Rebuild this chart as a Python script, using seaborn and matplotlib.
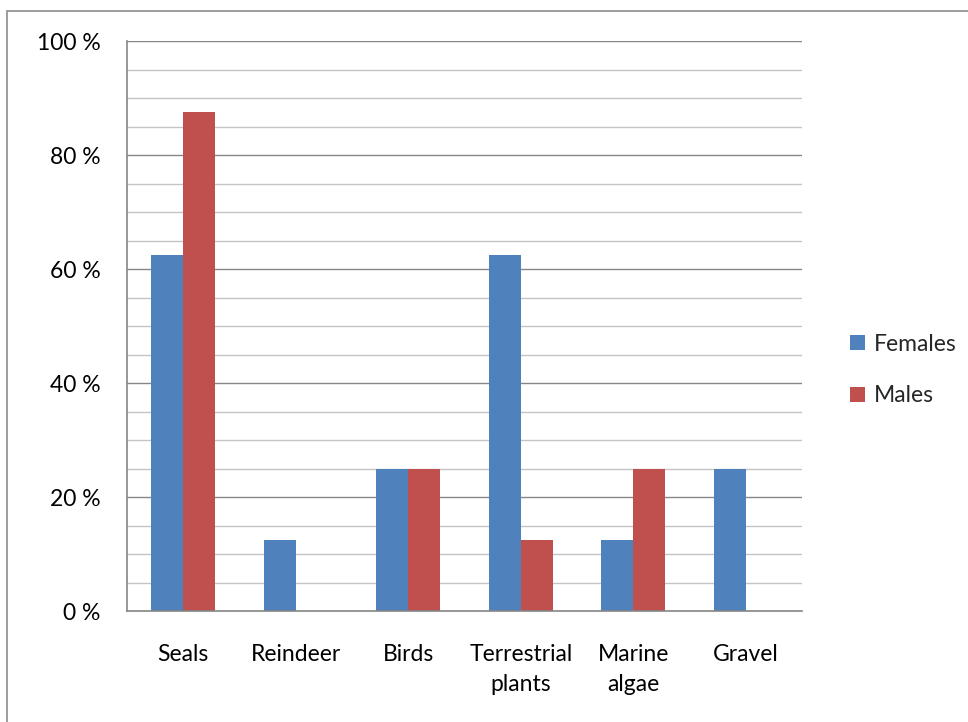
import matplotlib
matplotlib.use("Agg")
import matplotlib.pyplot as plt
from matplotlib.patches import Rectangle, Patch
from matplotlib.ticker import MultipleLocator, FuncFormatter
import seaborn as sns
import pandas as pd

# Share of individuals whose diet included each food source (%)
categories = ["Seals", "Reindeer", "Birds", "Terrestrial\nplants", "Marine\nalgae", "Gravel"]
females = [62.5, 12.5, 25.0, 62.5, 12.5, 25.0]
males = [87.5, 0.0, 25.0, 12.5, 25.0, 0.0]
series = ["Females", "Males"]
colors = ["#4F81BD", "#C0504D"]

df = pd.DataFrame({
    "category": categories * 2,
    "value": females + males,
    "sex": [series[0]] * len(categories) + [series[1]] * len(categories),
})

sns.set_theme(style="white")
plt.rcParams["font.family"] = ["Lato", "DejaVu Sans"]
FS = 16.5

W, H = 968, 722
fig = plt.figure(figsize=(W / 100, H / 100), dpi=100)
fig.patch.set_facecolor("white")

# outer chart frame
fig.patches.append(Rectangle((7 / W, -0.05), 1.2, 1 - 11 / H + 0.05,
                             transform=fig.transFigure, fill=False,
                             edgecolor="#8C8C8C", linewidth=1.2))

left, right, top, bottom = 127, 802, 41, 611
ax = fig.add_axes([left / W, (H - bottom) / H, (right - left) / W, (bottom - top) / H])
ax.set_facecolor("white")

sns.barplot(data=df, x="category", y="value", hue="sex", palette=colors,
            width=0.571, gap=0, ax=ax, legend=False, saturation=1,
            edgecolor=None, linewidth=0)

ax.set_ylim(0, 100)
ax.set_xlim(-0.5, len(categories) - 0.5)
ax.yaxis.set_major_locator(MultipleLocator(20))
ax.yaxis.set_minor_locator(MultipleLocator(5))
ax.yaxis.set_major_formatter(FuncFormatter(lambda v, p: f"{v:.0f} %"))
ax.grid(axis="y", which="major", color="#868686", linewidth=1.0, zorder=0)
ax.grid(axis="y", which="minor", color="#C4C4C4", linewidth=1.0, zorder=0)
ax.set_axisbelow(True)

# category labels at the centres, tick marks at the boundaries
ax.set_xticks([i - 0.5 for i in range(len(categories) + 1)])
ax.set_xticklabels([])
ax.set_xticks(range(len(categories)), minor=True)
ax.set_xticklabels(categories, minor=True, va="top", linespacing=1.55)
ax.tick_params(axis="x", which="major", direction="out", length=4.3, width=1.2, color="#868686")
ax.tick_params(axis="x", which="minor", length=0, pad=23.5, labelsize=FS, labelcolor="black")
ax.tick_params(axis="y", which="major", direction="out", length=6.5, width=1.2, color="#868686",
               pad=12.5, labelsize=FS, labelcolor="black")
ax.tick_params(axis="y", which="minor", length=0)

for side in ["top", "right"]:
    ax.spines[side].set_visible(False)
for side in ["left", "bottom"]:
    ax.spines[side].set_color("#868686")
    ax.spines[side].set_linewidth(1.2)

ax.set_xlabel("")
ax.set_ylabel("")

handles = [Patch(facecolor=c, edgecolor="none") for c in colors]
fig.legend(handles, series, loc="center left",
           bbox_to_anchor=(841 / W, 1 - 370 / H), frameon=False,
           handlelength=0.65, handleheight=0.65, handletextpad=0.4,
           labelspacing=1.35, fontsize=FS, borderaxespad=0)

fig.savefig("out.png", dpi=100, facecolor="white")
